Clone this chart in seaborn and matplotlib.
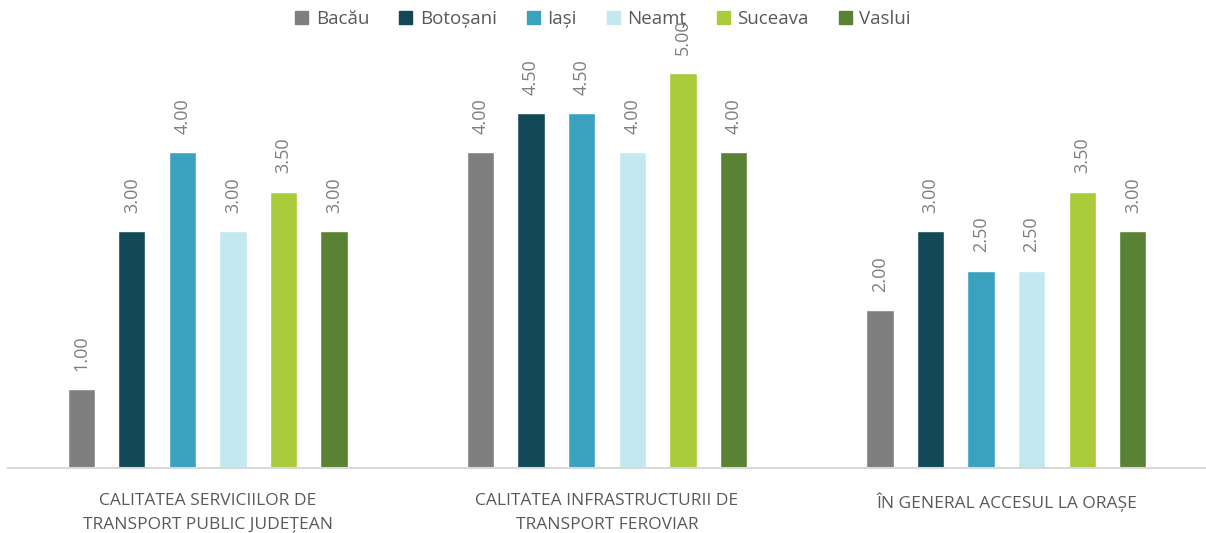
import pandas as pd
import seaborn as sns
import matplotlib.pyplot as plt

categories = [
    'CALITATEA SERVICIILOR DE\nTRANSPORT PUBLIC JUDEȚEAN',
    'CALITATEA INFRASTRUCTURII DE\nTRANSPORT FEROVIAR',
    'ÎN GENERAL ACCESUL LA ORAȘE',
]
counties = ['Bacău', 'Botoșani', 'Iași', 'Neamț', 'Suceava', 'Vaslui']
bacau = [1.0, 4.0, 2.0]
botosani = [3.0, 4.5, 3.0]
iasi = [4.0, 4.5, 2.5]
neamt = [3.0, 4.0, 2.5]
suceava = [3.5, 5.0, 3.5]
vaslui = [3.0, 4.0, 3.0]
colors = ['#7f7f7f', '#134856', '#3aa1be', '#c3e8f0', '#aacb39', '#5a8234']

series = [bacau, botosani, iasi, neamt, suceava, vaslui]
rows = []
for county, vals in zip(counties, series):
    for cat, v in zip(categories, vals):
        rows.append({'categorie': cat, 'judet': county, 'scor': v})
df = pd.DataFrame(rows)

sns.set_style('white')
plt.rcParams['font.family'] = ['Open Sans', 'DejaVu Sans']

fig = plt.figure(figsize=(12.06, 5.33), dpi=100)
ax = fig.add_axes([0.0066, 0.122, 0.9934, 0.815])

sns.barplot(
    data=df, x='categorie', y='scor', hue='judet',
    order=categories, hue_order=counties,
    palette=dict(zip(counties, colors)),
    width=0.76, gap=0.46, saturation=1, ax=ax, legend=False
)

# etichete valori, rotite vertical
for cont in ax.containers:
    ax.bar_label(cont, fmt='%.2f', rotation=90, padding=13,
                 fontsize=13, color='#7f7f7f')

ax.set_ylim(0, 5.5)
ax.set_xlim(-0.5, 2.5)
ax.set_xlabel('')
ax.set_ylabel('')
ax.set_yticks([])
ax.tick_params(axis='x', length=0, pad=18, labelsize=12.5, labelcolor='#595959')
for lbl in ax.get_xticklabels():
    lbl.set_linespacing(1.7)
for s in ['top', 'left', 'right']:
    ax.spines[s].set_visible(False)
ax.spines['bottom'].set_color('#d9d9d9')
ax.spines['bottom'].set_linewidth(1.5)

handles = [plt.Rectangle((0, 0), 1, 1, color=c) for c in colors]
leg = fig.legend(handles, counties, loc='upper center', bbox_to_anchor=(0.5, 1.012),
                 ncol=6, frameon=False, fontsize=13.5, labelcolor='#595959',
                 handlelength=0.7, handleheight=0.7, handletextpad=0.4,
                 columnspacing=1.6)
leg.set_zorder(10)

plt.savefig('out.png', dpi=100)
plt.close()
